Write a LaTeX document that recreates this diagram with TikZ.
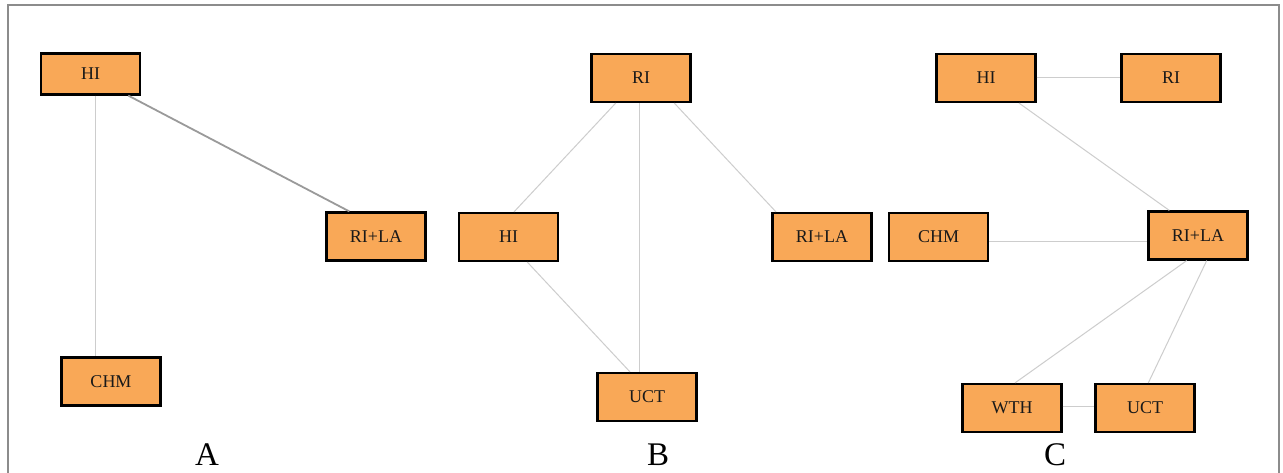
\documentclass[tikz,border=0pt]{standalone}
\usepackage{fontspec}
\setmainfont{Liberation Serif}
\definecolor{boxfill}{HTML}{F9A857}
\definecolor{edgelight}{HTML}{CDCDCD}
\definecolor{edgedark}{HTML}{9A9A9A}
\definecolor{framegray}{HTML}{8C8C8C}
\tikzset{
  nodebox/.style={draw=black, line width=2.2pt, fill=boxfill, minimum width=99pt, minimum height=48pt, inner sep=0pt, font=\fontsize{18}{20}\selectfont, text=black!90},
  shortbox/.style={nodebox, minimum height=41pt},
  lightedge/.style={draw=edgelight, line width=1pt},
  darkedge/.style={draw=edgedark, line width=1.8pt},
  panellabel/.style={font=\fontsize{33}{36}\selectfont, inner sep=0pt, text=black, text depth=0pt, anchor=base}
}
\begin{document}
\begin{tikzpicture}[x=1pt, y=-1pt]
\useasboundingbox (0,0) rectangle (1283,473);
\fill[white] (0,0) rectangle (1283,473);
\draw[framegray, line width=1.5pt] (8,474) -- (8,5) -- (1279,5) -- (1279,474);

% Panel A
\node[shortbox] (hiA) at (90.7,74) {HI};
\node[nodebox] (rlA) at (376,236.5) {RI+LA};
\node[nodebox] (chmA) at (111,381.5) {CHM};
\draw[darkedge] ([xshift=37.6pt]hiA.south) -- ([xshift=-26.7pt]rlA.north);
\draw[lightedge] ([xshift=5pt]hiA.south) -- ([xshift=-15.3pt]chmA.north);
\node[panellabel] (labA) at (207,465.5) {A};

% Panel B
\node[nodebox] (riB) at (641,78) {RI};
\node[nodebox] (hiB) at (508.5,237) {HI};
\node[nodebox] (rlB) at (822,237) {RI+LA};
\node[nodebox] (uctB) at (647,397) {UCT};
\draw[lightedge] ([xshift=-25.3pt]riB.south) -- ([xshift=5.5pt]hiB.north);
\draw[lightedge] ([xshift=-2pt]riB.south) -- ([xshift=-2pt]riB.south |- uctB.north);
\draw[lightedge] ([xshift=33.3pt]riB.south) -- ([xshift=-46pt]rlB.north);
\draw[lightedge] ([xshift=18.8pt]hiB.south) -- ([xshift=-17pt]uctB.north);
\node[panellabel] (labB) at (658,465) {B};

% Panel C
\node[nodebox] (hiC) at (986,78) {HI};
\node[nodebox] (riC) at (1171,78) {RI};
\node[nodebox] (chmC) at (938.7,237) {CHM};
\node[nodebox] (rlC) at (1198,235.5) {RI+LA};
\node[nodebox] (wthC) at (1012,408) {WTH};
\node[nodebox] (uctC) at (1145,408) {UCT};
\draw[lightedge] (hiC.east) -- (riC.west);
\draw[lightedge] ([xshift=33pt]hiC.south) -- ([xshift=-28.7pt]rlC.north);
\draw[lightedge] ([yshift=-5pt]chmC.east) -- ([yshift=-5pt]chmC.east -| rlC.west);
\draw[lightedge] ([yshift=2pt]wthC.east) -- ([yshift=2pt]wthC.east -| uctC.west);
\draw[lightedge] ([xshift=3pt]wthC.north) -- ([xshift=-11.3pt]rlC.south);
\draw[lightedge] ([xshift=3.3pt]uctC.north) -- ([xshift=8.7pt]rlC.south);
\node[panellabel] (labC) at (1055,465.5) {C};
\end{tikzpicture}
\end{document}
